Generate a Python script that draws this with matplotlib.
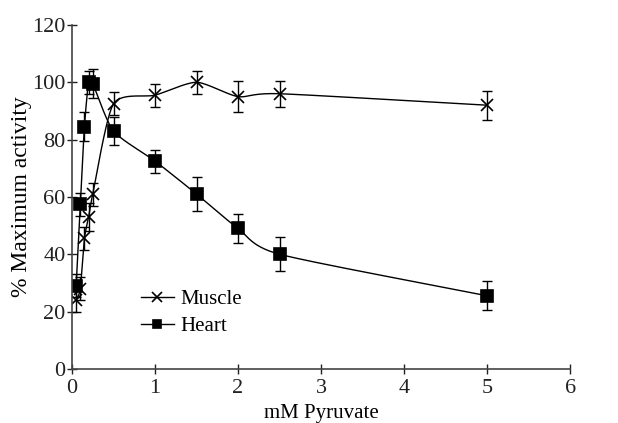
import numpy as np
import matplotlib.pyplot as plt

plt.rcParams['font.family'] = ['Liberation Serif', 'DejaVu Serif']

# data
conc = [0.05, 0.1, 0.15, 0.2, 0.25, 0.5, 1.0, 1.5, 2.0, 2.5, 5.0]
muscle = [24, 28, 45.5, 53, 61, 92.5, 95.5, 100, 95, 96, 92]
muscle_err = [4, 4, 4, 5, 4, 4, 4, 4, 5.5, 4.5, 5]
heart = [29, 57.5, 84.5, 100, 99.5, 83, 72.5, 61, 49, 40, 25.5]
heart_err = [4, 4, 5, 4, 5, 5, 4, 6, 5, 6, 5]


def smooth(x, y, n=30, k=0.7):
    # hermite curve through the points (like excel smoothed line)
    x = np.asarray(x, float)
    y = np.asarray(y, float)
    px = np.concatenate([[2*x[0]-x[1]], x, [2*x[-1]-x[-2]]])
    py = np.concatenate([[2*y[0]-y[1]], y, [2*y[-1]-y[-2]]])
    xs, ys = [], []
    t = np.linspace(0, 1, n)
    h00 = 2*t**3 - 3*t**2 + 1
    h10 = t**3 - 2*t**2 + t
    h01 = -2*t**3 + 3*t**2
    h11 = t**3 - t**2
    for i in range(1, len(px)-2):
        for p, out in ((px, xs), (py, ys)):
            p0, p1, p2, p3 = p[i-1], p[i], p[i+1], p[i+2]
            m1 = (p2 - p0) / 2 * k
            m2 = (p3 - p1) / 2 * k
            out.extend(h00*p1 + h10*m1 + h01*p2 + h11*m2)
    return np.array(xs), np.array(ys)


fig = plt.figure(figsize=(6.18, 4.23), dpi=100)
ax = fig.add_axes([0.1165, 0.128, 0.806, 0.813])

for yv, err, mk, ms, lab in [(muscle, muscle_err, 'x', 9, 'Muscle'),
                             (heart, heart_err, 's', 8, 'Heart')]:
    sx, sy = smooth(conc, yv)
    ax.plot(sx, sy, color='black', lw=1)
    ax.errorbar(conc, yv, yerr=err, fmt='none', ecolor='black', elinewidth=1, capsize=3.5)
    ax.plot(conc, yv, linestyle='none', marker=mk, ms=ms, color='black', mew=1.2)
    ax.plot([], [], color='black', lw=1, marker=mk, ms=ms*0.8, mew=1.2, label=lab)

ax.set_xlim(0, 6)
ax.set_ylim(0, 120)
ax.set_xticks(range(0, 7))
ax.set_yticks(range(0, 121, 20))
ax.spines['top'].set_visible(False)
ax.spines['right'].set_visible(False)
for s in ('left', 'bottom'):
    ax.spines[s].set_color('#444444')
    ax.spines[s].set_linewidth(1.2)
ax.tick_params(direction='inout', length=7, width=1, labelsize=16, colors='#222222')
ax.tick_params(axis='x', pad=4)
ax.tick_params(axis='y', pad=1)
ax.set_xlabel('mM Pyruvate', fontsize=15, labelpad=4)
ax.set_ylabel('% Maximum activity', fontsize=17, labelpad=0)

ax.legend(loc='lower left', bbox_to_anchor=(0.1, 0.04), frameon=False, fontsize=15,
          handlelength=1.6, handletextpad=0.3, labelspacing=0.35)

fig.savefig('out.png', dpi=100)
